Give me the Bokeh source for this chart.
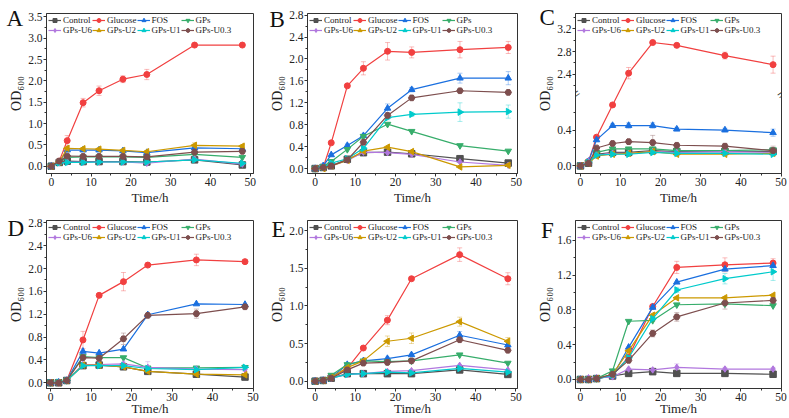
import math
from bokeh.plotting import figure
from bokeh.layouts import gridplot
from bokeh.models import (ColumnDataSource, Legend, LegendItem, Whisker, TeeHead, Label, Title,
                          FixedTicker, NumeralTickFormatter, Range1d)
from bokeh.embed import file_html
from bokeh.resources import INLINE

# ---------------- data ----------------
TIME = [0, 2, 4, 8, 12, 18, 24, 36, 48]
SERIES = ["Control", "Glucose", "FOS", "GPs", "GPs-U6", "GPs-U2", "GPs-U1", "GPs-U0.3"]
COLORS = ["#515151", "#F14040", "#1A6FDF", "#37AD6B", "#B177DE", "#CC9900", "#00CBCC", "#7D4E4E"]
MARKERS = ["square", "circle", "triangle", "inverted_triangle", "diamond", "triangle", "triangle", "hex"]
ANGLES = [0, 0, 0, 0, 0, math.pi / 2, -math.pi / 2, 0]
X_TICKS = [0, 10, 20, 30, 40, 50]
X_MINOR = [5, 15, 25, 35, 45]

# Panel A
A_control = [0, 0.09, 0.12, 0.11, 0.11, 0.11, 0.10, 0.15, 0.03]
A_glucose = [0, 0.12, 0.60, 1.49, 1.77, 2.04, 2.15, 2.84, 2.84]
A_fos = [0, 0.10, 0.38, 0.38, 0.38, 0.36, 0.32, 0.43, 0.41]
A_gps = [0, 0.10, 0.21, 0.22, 0.22, 0.22, 0.21, 0.28, 0.21]
A_u6 = [0, 0.08, 0.10, 0.10, 0.10, 0.10, 0.07, 0.17, 0.05]
A_u2 = [0, 0.10, 0.42, 0.41, 0.40, 0.37, 0.34, 0.49, 0.47]
A_u1 = [0, 0.08, 0.09, 0.09, 0.10, 0.10, 0.10, 0.15, 0.07]
A_u03 = [0, 0.12, 0.24, 0.23, 0.23, 0.23, 0.22, 0.33, 0.35]
A_glucose_err = [0, 0.02, 0.12, 0.10, 0.11, 0.08, 0.12, 0.03, 0.03]
A_u2_err = [0, 0, 0.03, 0.02, 0.03, 0.02, 0.02, 0.06, 0.04]

# Panel B
B_control = [0, 0.02, 0.05, 0.17, 0.29, 0.30, 0.27, 0.18, 0.10]
B_glucose = [0, 0.02, 0.47, 1.51, 1.83, 2.14, 2.12, 2.17, 2.21]
B_fos = [0, 0.05, 0.25, 0.42, 0.60, 1.10, 1.44, 1.65, 1.65]
B_gps = [0, 0.04, 0.13, 0.35, 0.59, 0.81, 0.68, 0.42, 0.32]
B_u6 = [0, 0.02, 0.05, 0.15, 0.30, 0.29, 0.26, 0.12, 0.06]
B_u2 = [0, 0.00, 0.05, 0.15, 0.32, 0.39, 0.31, 0.03, 0.06]
B_u1 = [0, 0.02, 0.10, 0.18, 0.37, 0.93, 0.99, 1.03, 1.04]
B_u03 = [0, 0.02, 0.05, 0.16, 0.48, 0.97, 1.29, 1.42, 1.39]
B_glucose_err = [0, 0.01, 0.03, 0.03, 0.12, 0.16, 0.10, 0.15, 0.11]
B_fos_err = [0, 0, 0.02, 0.03, 0.03, 0.08, 0.04, 0.09, 0.12]
B_u1_err = [0, 0, 0.01, 0.02, 0.03, 0.04, 0.04, 0.17, 0.12]

# Panel C (broken y axis)
C_control = [0, 0.03, 0.13, 0.15, 0.15, 0.17, 0.16, 0.16, 0.16]
C_glucose = [0, 0.05, 0.32, 0.68, 2.42, 2.96, 2.91, 2.73, 2.57]
C_fos = [0, 0.05, 0.29, 0.45, 0.45, 0.45, 0.41, 0.40, 0.37]
C_gps = [0, 0.04, 0.15, 0.19, 0.19, 0.19, 0.17, 0.17, 0.18]
C_u6 = [0, 0.05, 0.12, 0.14, 0.14, 0.16, 0.15, 0.16, 0.15]
C_u2 = [0, 0.03, 0.11, 0.13, 0.14, 0.16, 0.13, 0.13, 0.14]
C_u1 = [0, 0.04, 0.12, 0.13, 0.13, 0.15, 0.14, 0.14, 0.13]
C_u03 = [0, 0.03, 0.20, 0.25, 0.27, 0.26, 0.23, 0.22, 0.17]
C_glucose_err = [0, 0.01, 0.02, 0.02, 0.10, 0.03, 0.03, 0.06, 0.15]
C_u03_err = [0, 0, 0.01, 0.02, 0.02, 0.08, 0.02, 0.03, 0.05]
C_fos_err = [0.03, 0.01, 0.02, 0.02, 0.03, 0.03, 0.02, 0.02, 0.04]
C_Y_MAJOR = [0.0, 0.4, 2.4, 2.8, 3.2]
C_Y_MINOR = [0.2, 0.6, 2.2, 2.6, 3.0, 3.4]

# Panel D
D_control = [0, 0.00, 0.04, 0.30, 0.31, 0.28, 0.20, 0.15, 0.10]
D_glucose = [0, 0.00, 0.04, 0.75, 1.53, 1.77, 2.06, 2.15, 2.12]
D_fos = [0, 0.01, 0.04, 0.55, 0.52, 0.59, 1.19, 1.38, 1.37]
D_gps = [0, 0.01, 0.04, 0.46, 0.44, 0.44, 0.26, 0.26, 0.27]
D_u6 = [0, 0.01, 0.04, 0.32, 0.32, 0.33, 0.27, 0.24, 0.23]
D_u2 = [0, 0.00, 0.04, 0.31, 0.31, 0.28, 0.20, 0.15, 0.14]
D_u1 = [0, 0.01, 0.04, 0.30, 0.30, 0.30, 0.25, 0.23, 0.27]
D_u03 = [0, 0.00, 0.04, 0.44, 0.43, 0.77, 1.18, 1.21, 1.33]
D_glucose_err = [0, 0.01, 0.01, 0.15, 0.03, 0.16, 0.02, 0.10, 0.03]
D_u03_err = [0, 0, 0.01, 0.03, 0.04, 0.10, 0.03, 0.08, 0.04]
D_u6_err = [0, 0, 0.01, 0.03, 0.03, 0.03, 0.10, 0.03, 0.03]

# Panel E
E_control = [0, 0.01, 0.04, 0.10, 0.10, 0.10, 0.10, 0.15, 0.09]
E_glucose = [0, 0.01, 0.05, 0.17, 0.44, 0.81, 1.36, 1.68, 1.36]
E_fos = [0, 0.01, 0.05, 0.22, 0.27, 0.30, 0.35, 0.61, 0.48]
E_gps = [0, 0.01, 0.08, 0.22, 0.27, 0.26, 0.27, 0.35, 0.24]
E_u6 = [0, 0.01, 0.04, 0.09, 0.10, 0.13, 0.14, 0.21, 0.15]
E_u2 = [0, 0.01, 0.05, 0.18, 0.27, 0.53, 0.57, 0.79, 0.53]
E_u1 = [0, 0.01, 0.04, 0.09, 0.10, 0.12, 0.11, 0.17, 0.12]
E_u03 = [0, 0.01, 0.04, 0.15, 0.24, 0.25, 0.27, 0.55, 0.41]
E_glucose_err = [0, 0.01, 0.01, 0.02, 0.02, 0.06, 0.02, 0.09, 0.08]
E_u2_err = [0, 0, 0.01, 0.02, 0.02, 0.07, 0.07, 0.06, 0.05]
E_fos_err = [0, 0, 0.01, 0.02, 0.02, 0.02, 0.02, 0.05, 0.03]

# Panel F
F_control = [0, 0.00, 0.01, 0.04, 0.07, 0.09, 0.07, 0.07, 0.06]
F_glucose = [0, 0.00, 0.01, 0.05, 0.26, 0.84, 1.29, 1.32, 1.34]
F_fos = [0, 0.00, 0.01, 0.04, 0.37, 0.83, 1.12, 1.27, 1.31]
F_gps = [0, 0.00, 0.01, 0.10, 0.67, 0.68, 0.86, 0.87, 0.85]
F_u6 = [0, 0.02, 0.02, 0.03, 0.12, 0.11, 0.14, 0.12, 0.12]
F_u2 = [0, 0.00, 0.01, 0.06, 0.33, 0.74, 0.94, 0.94, 0.97]
F_u1 = [0, 0.00, 0.01, 0.05, 0.25, 0.70, 1.03, 1.16, 1.24]
F_u03 = [0, 0.00, 0.01, 0.06, 0.22, 0.53, 0.72, 0.88, 0.91]
F_glucose_err = [0, 0.01, 0.01, 0.01, 0.02, 0.02, 0.07, 0.08, 0.05]
F_u1_err = [0, 0, 0.01, 0.01, 0.02, 0.03, 0.03, 0.06, 0.10]
F_u03_err = [0, 0, 0.01, 0.01, 0.02, 0.04, 0.05, 0.07, 0.03]
F_u6_err = [0, 0, 0.01, 0.01, 0.01, 0.02, 0.04, 0.02, 0.02]

# ---------------- break transform for panel C ----------------
BRK_LOW = 0.8
BRK_HIGH = 2.05
BRK_SCALE = 57.5 / 90.8


def brk(v):
    if v <= BRK_LOW:
        return v
    return BRK_LOW + (max(v, BRK_HIGH) - BRK_HIGH) * BRK_SCALE


FONT = "Liberation Serif"

PANELS = [
    dict(letter="A", data=[A_control, A_glucose, A_fos, A_gps, A_u6, A_u2, A_u1, A_u03],
         errs={1: A_glucose_err, 5: A_u2_err}, yr=(-0.17, 3.58), xr=(-1.2, 50.8),
         yt=[0, 0.5, 1.0, 1.5, 2.0, 2.5, 3.0, 3.5], ym=[0.25, 0.75, 1.25, 1.75, 2.25, 2.75, 3.25],
         w=262, h=207, bl=45, br=5, bt=12, bb=33, so=-35, off=-40, tight=False),
    dict(letter="B", data=[B_control, B_glucose, B_fos, B_gps, B_u6, B_u2, B_u1, B_u03],
         errs={1: B_glucose_err, 2: B_fos_err, 6: B_u1_err}, yr=(-0.09, 2.83), xr=(-1.9, 50.3),
         yt=[0, 0.4, 0.8, 1.2, 1.6, 2.0, 2.4, 2.8], ym=[0.2, 0.6, 1.0, 1.4, 1.8, 2.2, 2.6],
         w=263, h=207, bl=45, br=8, bt=10, bb=32, so=-36, off=-38, tight=False),
    dict(letter="C", data=[C_control, C_glucose, C_fos, C_gps, C_u6, C_u2, C_u1, C_u03],
         errs={1: C_glucose_err, 2: C_fos_err, 7: C_u03_err}, yr=(-0.085, 1.70), xr=(-1.24, 50.1),
         yt=None, ym=None, broken=True,
         w=264, h=207, bl=50, br=8, bt=13, bb=32, so=-33, off=-36, tight=False),
    dict(letter="D", data=[D_control, D_glucose, D_fos, D_gps, D_u6, D_u2, D_u1, D_u03],
         errs={1: D_glucose_err, 7: D_u03_err, 4: D_u6_err}, yr=(-0.10, 2.84), xr=(-1.0, 50.1),
         yt=[0, 0.4, 0.8, 1.2, 1.6, 2.0, 2.4, 2.8], ym=[0.2, 0.6, 1.0, 1.4, 1.8, 2.2, 2.6],
         w=262, h=211, bl=46, br=9, bt=13, bb=30, so=-41, off=-39, tight=True),
    dict(letter="E", data=[E_control, E_glucose, E_fos, E_gps, E_u6, E_u2, E_u1, E_u03],
         errs={1: E_glucose_err, 5: E_u2_err, 2: E_fos_err}, yr=(-0.097, 2.133), xr=(-1.9, 50.4),
         yt=[0, 0.5, 1.0, 1.5, 2.0], ym=[0.25, 0.75, 1.25, 1.75],
         w=263, h=211, bl=45, br=8, bt=13, bb=30, so=-42, off=-36, tight=True),
    dict(letter="F", data=[F_control, F_glucose, F_fos, F_gps, F_u6, F_u2, F_u1, F_u03],
         errs={1: F_glucose_err, 6: F_u1_err, 7: F_u03_err, 4: F_u6_err}, yr=(-0.104, 1.83), xr=(-1.24, 50.1),
         yt=[0, 0.4, 0.8, 1.2, 1.6], ym=[0.2, 0.6, 1.0, 1.4],
         w=264, h=211, bl=50, br=8, bt=13, bb=30, so=-44, off=-34.5, tight=True),
]


def make_panel(cfg):
    broken = cfg.get("broken", False)
    tf = brk if broken else (lambda v: v)
    xr = cfg["xr"]
    p = figure(width=cfg["w"], height=cfg["h"], output_backend="svg", toolbar_location=None,
               x_range=Range1d(*xr), y_range=Range1d(*cfg["yr"]),
               min_border_left=cfg["bl"], min_border_right=cfg["br"],
               min_border_top=cfg["bt"], min_border_bottom=cfg["bb"])
    # panel letter, drawn as a title pulled down beside the frame
    p.title = Title(text=cfg["letter"], text_font=FONT, text_font_size="23px", text_color="#111111",
                    text_font_style="normal", align="left", vertical_align="bottom",
                    offset=cfg["off"], standoff=cfg["so"])
    p.xgrid.visible = False
    p.ygrid.visible = False
    p.outline_line_color = "#333333"
    p.outline_line_width = 1
    p.outline_line_alpha = 1
    p.background_fill_color = "white"
    p.border_fill_color = "white"

    # axes
    p.xaxis.ticker = FixedTicker(ticks=X_TICKS, minor_ticks=X_MINOR)
    if broken:
        maj = [round(tf(v), 6) for v in C_Y_MAJOR]
        mnr = [round(tf(v), 6) for v in C_Y_MINOR]
        p.yaxis.ticker = FixedTicker(ticks=maj, minor_ticks=mnr)
        p.yaxis.major_label_overrides = {m: "%.1f" % v for m, v in zip(maj, C_Y_MAJOR)}
    else:
        p.yaxis.ticker = FixedTicker(ticks=cfg["yt"], minor_ticks=cfg["ym"])
        p.yaxis.formatter = NumeralTickFormatter(format="0.0")
    for ax in (p.xaxis[0], p.yaxis[0]):
        ax.axis_line_color = "#333333"
        ax.major_tick_line_color = "#333333"
        ax.minor_tick_line_color = "#333333"
        ax.major_tick_out = 3
        ax.major_tick_in = 0
        ax.minor_tick_out = 2
        ax.minor_tick_in = 0
        ax.major_label_text_font = FONT
        ax.major_label_text_font_size = "11.5px"
        ax.major_label_text_color = "#222222"
        ax.major_label_standoff = 1
        ax.axis_label_text_font = FONT
        ax.axis_label_text_font_style = "normal"
        ax.axis_label_text_color = "#222222"
        ax.axis_label_standoff = 1
    if cfg["tight"]:
        p.xaxis.axis_label_standoff = -3
    p.xaxis.axis_label = "Time/h"
    p.xaxis.axis_label_text_font_size = "13px"
    p.yaxis.axis_label = "OD\u2086\u2080\u2080"
    p.yaxis.axis_label_text_font_size = "14px"

    items = []
    for i, name in enumerate(SERIES):
        ys = [tf(v) for v in cfg["data"][i]]
        src = ColumnDataSource(dict(x=TIME, y=ys))
        if i in cfg["errs"]:
            e = cfg["errs"][i]
            raw = cfg["data"][i]
            esrc = ColumnDataSource(dict(x=TIME,
                                         upper=[tf(v + d) for v, d in zip(raw, e)],
                                         lower=[tf(v - d) for v, d in zip(raw, e)]))
            wk = Whisker(source=esrc, base="x", upper="upper", lower="lower",
                         line_color=COLORS[i], line_alpha=0.35, line_width=1,
                         upper_head=TeeHead(size=5, line_color=COLORS[i], line_alpha=0.35),
                         lower_head=TeeHead(size=5, line_color=COLORS[i], line_alpha=0.35))
            p.add_layout(wk)
        ln = p.line("x", "y", source=src, line_color=COLORS[i], line_width=1.2)
        sc = p.scatter("x", "y", source=src, marker=MARKERS[i], size=6.5 if MARKERS[i] != "circle" else 6,
                       fill_color=COLORS[i], line_color=COLORS[i], angle=ANGLES[i])
        items.append(LegendItem(label=name, renderers=[ln, sc]))

    legend = Legend(items=items, location="top_left", orientation="horizontal", ncols=4)
    legend.label_text_font = FONT
    legend.label_text_font_size = "9px"
    legend.label_text_color = "#222222"
    legend.glyph_width = 13
    legend.glyph_height = 10
    legend.label_height = 10
    legend.label_standoff = 2
    legend.spacing = 0
    legend.padding = 0
    legend.margin = 2
    legend.border_line_alpha = 0
    legend.background_fill_alpha = 0
    p.add_layout(legend)

    if broken:
        for xb in xr:
            p.add_layout(Label(x=xb, y=BRK_LOW, text="=", text_font=FONT, text_font_size="16px",
                               text_color="#333333", angle=math.radians(35),
                               text_align="center", text_baseline="middle"))
    return p


figs = [make_panel(c) for c in PANELS]
grid = gridplot([figs[0:3], figs[3:6]], toolbar_location=None)

html = file_html(grid, INLINE)
open("out.html", "w").write(html)
